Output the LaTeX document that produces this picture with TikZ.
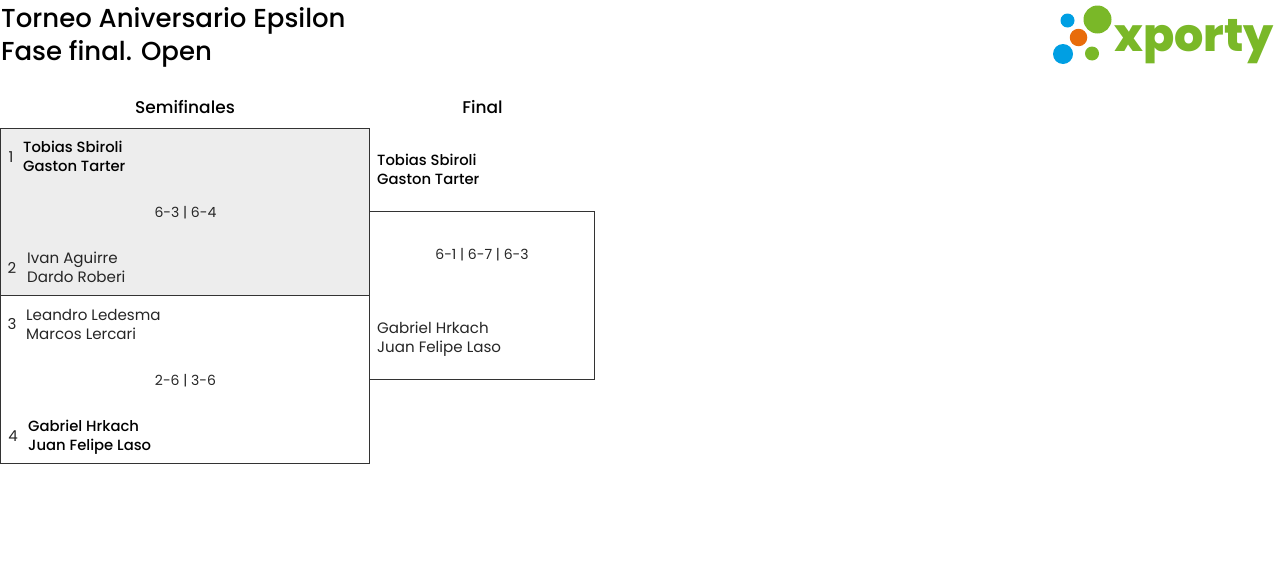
\documentclass[tikz,border=0pt]{standalone}
\usepackage{fontspec}
\setmainfont{Poppins}
\usetikzlibrary{positioning}
\definecolor{winbg}{HTML}{EDEDED}
\definecolor{xgreen}{HTML}{7AB828}
\definecolor{xblue}{HTML}{009FE3}
\definecolor{xorange}{HTML}{E86C0A}
\tikzset{
  matchbox/.style={draw=black!80, line width=0.8pt, inner sep=0pt, outer sep=0pt, anchor=north west},
  pairtext/.style={inner sep=0pt, anchor=west, align=left, font=\fontsize{15.1}{19}\selectfont, text=black!85},
  winner/.style={pairtext, text=black, font=\fontsize{14.8}{19}\selectfont\fontspec{Poppins Medium}},
  seedtext/.style={inner sep=0pt, font=\fontsize{15}{19}\selectfont, text=black!85},
  scoretext/.style={inner sep=0pt, font=\fontsize{14}{19}\selectfont, text=black!85},
  roundtext/.style={inner sep=0pt, font=\fontsize{17}{19}\selectfont\fontspec{Poppins Medium}},
  titletext/.style={inner sep=0pt, anchor=west, font=\fontsize{26}{33}\selectfont\fontspec{Poppins Medium}},
  dot/.style={circle, inner sep=0pt, minimum size=#1}
}
\begin{document}
\begin{tikzpicture}[x=1pt, y=-1pt]
\useasboundingbox (0,0) rectangle (1280,562);
% titles
\node[titletext] (title1) at (1,21) {Torneo Aniversario Epsilon};
\node[titletext] (title2) at (1,54) {Fase final. Open};
% round headers
\node[roundtext] (semis) at (185,107) {Semifinales};
\node[roundtext] (final) at (482.5,107) {Final};
% boxes
\node[matchbox, fill=winbg, minimum width=369pt, minimum height=167pt] (semi1) at (0.5,128.5) {};
\node[matchbox, minimum width=369pt, minimum height=168pt] (semi2) at (0.5,295.5) {};
\node[matchbox, minimum width=225pt, minimum height=168pt] (finalbox) at (369.5,211.5) {};
% first semifinal
\node[seedtext] (seed1) at (11,157) {1};
\node[winner] (pair1) at (23,156) {Tobias Sbiroli\\Gaston Tarter};
\node[scoretext] (score1) at (185.5,213) {6-3 | 6-4};
\node[seedtext] (seed2) at (12,268) {2};
\node[pairtext] (pair2) at (27,267) {Ivan Aguirre\\Dardo Roberi};
% second semifinal
\node[seedtext] (seed3) at (12,324) {3};
\node[pairtext] (pair3) at (26,324) {Leandro Ledesma\\Marcos Lercari};
\node[scoretext] (score2) at (185.5,381) {2-6 | 3-6};
\node[seedtext] (seed4) at (13,436) {4};
\node[winner] (pair4) at (28,437) {Gabriel Hrkach\\Juan Felipe Laso};
% final
\node[winner] (pair5) at (377,169.5) {Tobias Sbiroli\\Gaston Tarter};
\node[scoretext] (score3) at (482,255) {6-1 | 6-7 | 6-3};
\node[pairtext] (pair6) at (377,339.5) {Gabriel Hrkach\\Juan Felipe Laso};
% logo
\node[dot=14pt, fill=xblue] (dot1) at (1067.5,20.5) {};
\node[dot=28pt, fill=xgreen] (dot2) at (1097.5,19.5) {};
\node[dot=17.5pt, fill=xorange] (dot3) at (1078.5,37.5) {};
\node[dot=20pt, fill=xblue] (dot4) at (1063,54) {};
\node[dot=14pt, fill=xgreen] (dot5) at (1092,53.5) {};
\node[inner sep=0pt, anchor=west, text=xgreen, font=\fontsize{46}{46}\selectfont\fontspec{Poppins ExtraBold}] (logo) at (1114,41.5) {xporty};
\end{tikzpicture}
\end{document}
